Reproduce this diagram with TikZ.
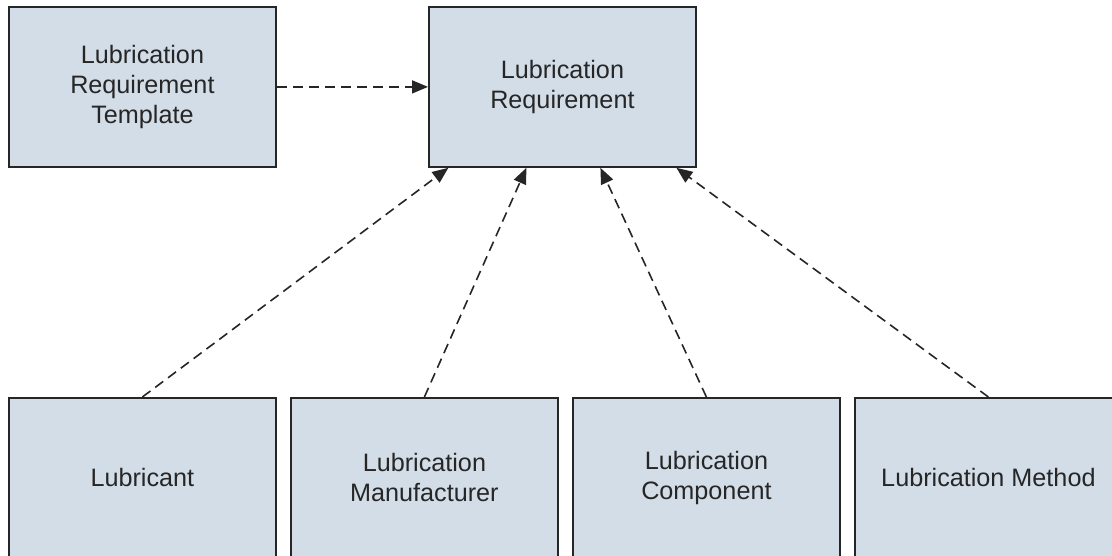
\documentclass[tikz,border=0pt]{standalone}
\usepackage{fontspec}
\setmainfont{Liberation Sans}
\usetikzlibrary{arrows.meta,positioning,calc}
\definecolor{boxfill}{HTML}{D3DDE7}
\definecolor{boxtext}{HTML}{262626}

\begin{document}
\begin{tikzpicture}[
  node distance=114.6pt and 6.6pt,
  ent/.style={draw=black!85,line width=0.9pt,fill=boxfill,text=boxtext,
    minimum width=133.5pt,minimum height=80pt,align=center,inner sep=2pt,
    font=\fontsize{12.6}{15}\selectfont},
  dep/.style={-{Triangle[length=8pt,width=6.5pt]},line width=0.8pt,
    dash pattern=on 5pt off 3pt,black!85}
]
  \useasboundingbox (-4pt,3pt) rectangle (552pt,-275pt);

  \node[ent,anchor=north west] (tmpl) at (0,0) {Lubrication\\Requirement\\Template};
  \node[ent,right=75.6pt of tmpl] (req) {Lubrication\\Requirement};

  \node[ent,below=of tmpl] (lub)  {Lubricant};
  \node[ent,right=of lub]  (manu) {Lubrication\\Manufacturer};
  \node[ent,right=of manu] (comp) {Lubrication\\Component};
  \node[ent,right=of comp] (meth) {Lubrication Method};

  \draw[dep] (tmpl) -- (req);
  \draw[dep] (lub.north)  -- ([xshift=-57pt]req.south);
  \draw[dep] (manu.north) -- ([xshift=-18pt]req.south);
  \draw[dep] (comp.north) -- ([xshift=19pt]req.south);
  \draw[dep] (meth.north) -- ([xshift=57pt]req.south);
\end{tikzpicture}
\end{document}
